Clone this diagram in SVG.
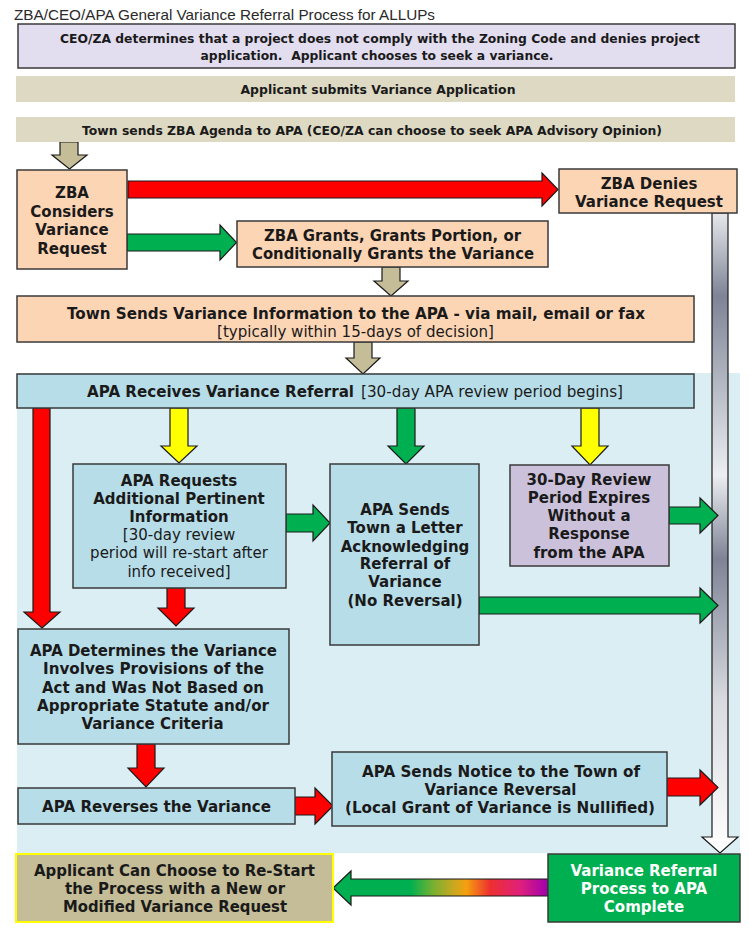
<svg xmlns="http://www.w3.org/2000/svg" width="749" height="929" viewBox="0 0 749 929">
<defs>
<style>
.t{font-family:"DejaVu Sans",Verdana,sans-serif;font-weight:bold;font-size:15px;fill:#1a1a1a;text-anchor:middle}
.s{font-size:12.4px}
.n{font-weight:normal}
.w{fill:#ffffff}
.box{stroke:#3a3a3a;stroke-width:1.5}
.peach{fill:#fcd5b5}
.blue{fill:#b7dde8}
.arr{stroke:#1a1a1a;stroke-width:1.2;stroke-linejoin:miter}
.red{fill:#ff0000}
.grn{fill:#00b050}
.yel{fill:#ffff00}
.tan{fill:#c4bd97}
</style>
<linearGradient id="gray" gradientUnits="userSpaceOnUse" x1="0" y1="213" x2="0" y2="853">
<stop offset="0" stop-color="#e6e8ec"/>
<stop offset="0.13" stop-color="#7e8496"/>
<stop offset="0.41" stop-color="#eceef1"/>
<stop offset="0.54" stop-color="#7e8496"/>
<stop offset="0.76" stop-color="#d8dadf"/>
<stop offset="1" stop-color="#ffffff"/>
</linearGradient>
<linearGradient id="rainbow" gradientUnits="userSpaceOnUse" x1="333" y1="0" x2="548" y2="0">
<stop offset="0" stop-color="#00b050"/>
<stop offset="0.36" stop-color="#00b050"/>
<stop offset="0.47" stop-color="#7cb030"/>
<stop offset="0.56" stop-color="#c8a820"/>
<stop offset="0.62" stop-color="#f5a00f"/>
<stop offset="0.73" stop-color="#ee3030"/>
<stop offset="0.87" stop-color="#e0207a"/>
<stop offset="1" stop-color="#a000b0"/>
</linearGradient>
</defs>
<rect width="749" height="929" fill="#ffffff"/>
<text x="14" y="20" font-family="Liberation Sans, Arial, sans-serif" font-size="14.5" fill="#2a2a2a" textLength="421" lengthAdjust="spacingAndGlyphs">ZBA/CEO/APA General Variance Referral Process for ALLUPs</text>

<rect id="panel" x="17" y="373" width="723" height="480" fill="#dbeef3"/>

<g id="connectors">
<polygon class="arr tan" points="60,142 78,142 78,155 87,155 69.5,169 52,155 60,155"/>
<polygon class="arr red" points="128,181 542,181 542,173 558,189.5 542,206 542,198 128,198"/>
<polygon class="arr grn" points="127,234 220,234 220,225 236.5,242.5 220,260 220,251 127,251"/>
<polygon class="arr tan" points="382,267 400,267 400,281 408,281 391,296 374,281 382,281"/>
<polygon class="arr tan" points="354,342 372,342 372,358 380,358 363,374 346,358 354,358"/>
<polygon class="arr" fill="url(#gray)" points="712,213 728,213 728,837 738,837 720,853 702,837 712,837"/>
<polygon class="arr red" points="33,408 50,408 50,612 60,612 42,628 24,612 33,612"/>
<polygon class="arr yel" points="170,408 188,408 188,446 197,446 179,463 161,446 170,446"/>
<polygon class="arr grn" points="397,408 415,408 415,446 424,446 406,464 388,446 397,446"/>
<polygon class="arr yel" points="581,408 599,408 599,446 608,446 590,465 572,446 581,446"/>
<polygon class="arr grn" points="286,514 313,514 313,505 330,523 313,541 313,532 286,532"/>
<polygon class="arr grn" points="669,507 700,507 700,498 718,515.5 700,533 700,524 669,524"/>
<polygon class="arr grn" points="479,597 700,597 700,588 718,605.5 700,623 700,614 479,614"/>
<polygon class="arr red" points="167,588 185,588 185,608 194,608 176,626 158,608 167,608"/>
<polygon class="arr red" points="137,744 155,744 155,768 164,768 146,787 128,768 137,768"/>
<polygon class="arr red" points="295,797 315,797 315,788 333,806 315,824 315,815 295,815"/>
<polygon class="arr red" points="667,778 700,778 700,770 718,787.5 700,805 700,796 667,796"/>
<polygon class="arr" fill="url(#rainbow)" points="548,879 351,879 351,871 333,888 351,905 351,896 548,896"/>
</g>

<g id="ceo-za">
<rect class="box" x="18" y="24" width="717" height="44" fill="#e2ddef"/>
<text class="t s" x="380" y="42.5" textLength="640" lengthAdjust="spacingAndGlyphs">CEO/ZA determines that a project does not comply with the Zoning Code and denies project</text>
<text class="t s" x="377" y="59.5" textLength="353" lengthAdjust="spacingAndGlyphs" xml:space="preserve">application.  Applicant chooses to seek a variance.</text>
</g>

<g id="submits">
<rect x="16" y="76" width="719" height="26" fill="#ddd9c3"/>
<text class="t s" x="378" y="94" textLength="275" lengthAdjust="spacingAndGlyphs">Applicant submits Variance Application</text>
</g>

<g id="agenda">
<rect x="16" y="117" width="719" height="25" fill="#ddd9c3"/>
<text class="t s" x="372" y="134.5" textLength="580" lengthAdjust="spacingAndGlyphs">Town sends ZBA Agenda to APA (CEO/ZA can choose to seek APA Advisory Opinion)</text>
</g>

<g id="zba-considers">
<rect class="box peach" x="17" y="170" width="110" height="99"/>
<text class="t" x="72" y="198">ZBA</text>
<text class="t" x="72" y="216.5">Considers</text>
<text class="t" x="72" y="235">Variance</text>
<text class="t" x="72" y="253.5">Request</text>
</g>

<g id="zba-denies">
<rect class="box peach" x="559" y="169" width="178" height="44"/>
<text class="t" x="649" y="189">ZBA Denies</text>
<text class="t" x="649" y="207">Variance Request</text>
</g>

<g id="zba-grants">
<rect class="box peach" x="237" y="221" width="311" height="46"/>
<text class="t" x="392.5" y="241" textLength="257" lengthAdjust="spacingAndGlyphs">ZBA Grants, Grants Portion, or</text>
<text class="t" x="393" y="259" textLength="282" lengthAdjust="spacingAndGlyphs">Conditionally Grants the Variance</text>
</g>

<g id="town-sends">
<rect class="box peach" x="17" y="296" width="677" height="46"/>
<text class="t" x="356" y="319" textLength="578" lengthAdjust="spacingAndGlyphs">Town Sends Variance Information to the APA - via mail, email or fax</text>
<text class="t n" x="355.5" y="337" textLength="277" lengthAdjust="spacingAndGlyphs">[typically within 15-days of decision]</text>
</g>

<g id="apa-receives">
<rect class="box blue" x="17" y="374" width="677" height="34"/>
<text class="t" x="87" y="397" style="text-anchor:start" textLength="267" lengthAdjust="spacingAndGlyphs">APA Receives Variance Referral</text>
<text class="t n" x="361" y="397" style="text-anchor:start" textLength="262" lengthAdjust="spacingAndGlyphs">[30-day APA review period begins]</text>
</g>

<g id="apa-requests">
<rect class="box blue" x="73" y="464" width="213" height="124"/>
<text class="t" x="179" y="486">APA Requests</text>
<text class="t" x="179" y="503.5">Additional Pertinent</text>
<text class="t" x="179" y="522">Information</text>
<text class="t n" x="179" y="540">[30-day review</text>
<text class="t n" x="179" y="558">period will re-start after</text>
<text class="t n" x="179" y="576.5">info received]</text>
</g>

<g id="apa-letter">
<rect class="box blue" x="330" y="464" width="149" height="181"/>
<text class="t" x="405" y="515">APA Sends</text>
<text class="t" x="405" y="533">Town a Letter</text>
<text class="t" x="405" y="551.5">Acknowledging</text>
<text class="t" x="405" y="569">Referral of</text>
<text class="t" x="405" y="587">Variance</text>
<text class="t" x="405" y="605.5">(No Reversal)</text>
</g>

<g id="review-expires">
<rect class="box" x="510" y="465" width="159" height="101" fill="#ccc1da"/>
<text class="t" x="589" y="485">30-Day Review</text>
<text class="t" x="589" y="503">Period Expires</text>
<text class="t" x="589" y="521">Without a</text>
<text class="t" x="589" y="539">Response</text>
<text class="t" x="589" y="557.5">from the APA</text>
</g>

<g id="apa-determines">
<rect class="box blue" x="18" y="629" width="271" height="115"/>
<text class="t" x="153.5" y="656" textLength="247" lengthAdjust="spacingAndGlyphs">APA Determines the Variance</text>
<text class="t" x="153.5" y="674" textLength="221" lengthAdjust="spacingAndGlyphs">Involves Provisions of the</text>
<text class="t" x="153" y="692.5" textLength="222" lengthAdjust="spacingAndGlyphs">Act and Was Not Based on</text>
<text class="t" x="153" y="711" textLength="232" lengthAdjust="spacingAndGlyphs">Appropriate Statute and/or</text>
<text class="t" x="152.5" y="729">Variance Criteria</text>
</g>

<g id="apa-reverses">
<rect class="box blue" x="18" y="788" width="277" height="36"/>
<text class="t" x="156.5" y="811.5" textLength="229" lengthAdjust="spacingAndGlyphs">APA Reverses the Variance</text>
</g>

<g id="apa-notice">
<rect class="box blue" x="332" y="752" width="335" height="74"/>
<text class="t" x="501" y="777" textLength="278" lengthAdjust="spacingAndGlyphs">APA Sends Notice to the Town of</text>
<text class="t" x="500.5" y="795">Variance Reversal</text>
<text class="t" x="500" y="813" textLength="310" lengthAdjust="spacingAndGlyphs">(Local Grant of Variance is Nullified)</text>
</g>

<g id="applicant-restart">
<rect x="16" y="854" width="317" height="68" fill="#c4bd97" stroke="#ffff00" stroke-width="2"/>
<text class="t" x="174.5" y="876" textLength="281" lengthAdjust="spacingAndGlyphs">Applicant Can Choose to Re-Start</text>
<text class="t" x="175" y="894" textLength="220" lengthAdjust="spacingAndGlyphs">the Process with a New or</text>
<text class="t" x="175" y="912" textLength="224" lengthAdjust="spacingAndGlyphs">Modified Variance Request</text>
</g>

<g id="process-complete">
<rect class="box" x="548" y="854" width="192" height="68" fill="#00b050"/>
<text class="t w" x="644" y="876">Variance Referral</text>
<text class="t w" x="644" y="894">Process to APA</text>
<text class="t w" x="644" y="912">Complete</text>
</g>
</svg>
